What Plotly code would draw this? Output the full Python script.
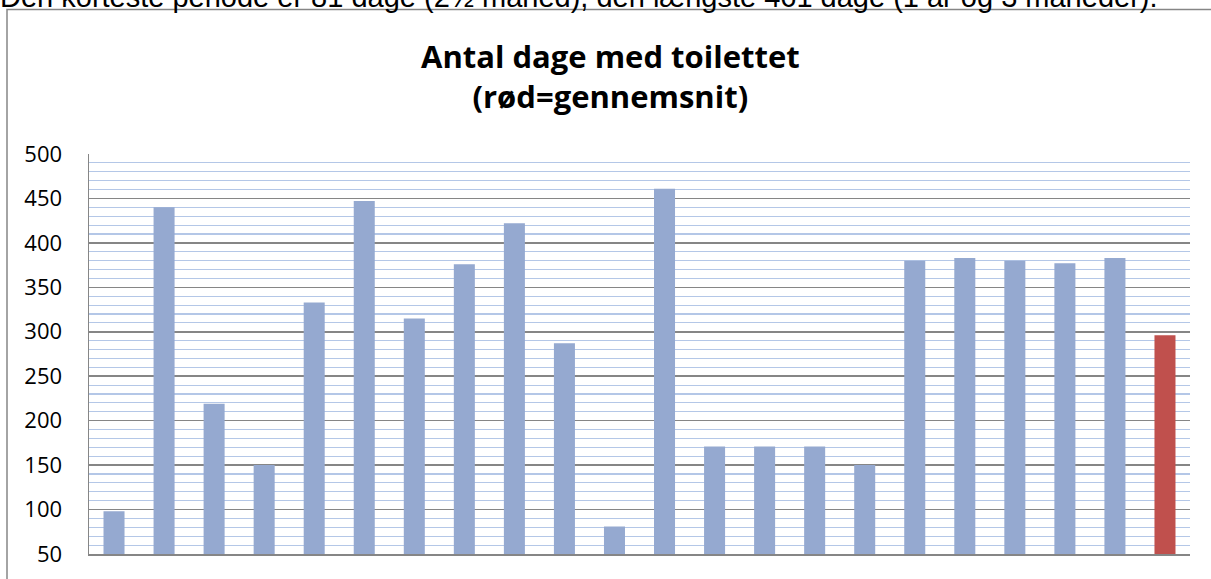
import plotly.graph_objects as go

categories = [str(i) for i in range(1, 22)] + ["Gennemsnit"]
values = [98, 440, 219, 150, 333, 447, 315, 376, 422, 287, 81, 461,
          171, 171, 171, 150, 380, 383, 380, 377, 383, 296]
bar_colors = ["#95A9D0"] * 21 + ["#C0504D"]
y_ticks = [50, 100, 150, 200, 250, 300, 350, 400, 450, 500]

W, H = 1211, 579
L, R, T, B = 89, 1190, 154, 554

def px(xp):
    return (xp - L) / (R - L)

def py(yp):
    return (B - yp) / (B - T)

fig = go.Figure(go.Bar(
    x=categories, y=values,
    marker=dict(color=bar_colors, line=dict(width=0)),
    hoverinfo="skip",
))

fig.update_layout(
    width=W, height=H,
    margin=dict(l=L, r=W - R, t=T, b=H - B, pad=0),
    paper_bgcolor="white", plot_bgcolor="white",
    bargap=0.58,
    showlegend=False,
    font=dict(family="Open Sans, Liberation Sans, sans-serif", color="black"),
)
fig.update_xaxes(
    showticklabels=False, ticks="", showgrid=False,
    showline=True, linecolor="#868686", linewidth=1.5,
    zeroline=False, fixedrange=True,
)
fig.update_yaxes(
    range=[50, 500], tickvals=y_ticks, ticktext=[str(v) for v in y_ticks],
    showgrid=True, gridcolor="#868686", gridwidth=1.5,
    minor=dict(dtick=10, tick0=50, showgrid=True, gridcolor="#B4C7E7", gridwidth=1.2),
    showline=True, linecolor="#868686", linewidth=1.5,
    ticks="", ticklabelstandoff=21,
    tickfont=dict(family="Open Sans, sans-serif", size=22, color="black"),
    zeroline=False, fixedrange=True,
)

# chart border
fig.add_shape(type="rect", xref="paper", yref="paper",
              x0=px(7), x1=px(1214), y0=py(590), y1=py(9.5),
              line=dict(color="#868686", width=1.5), layer="below")

# title
fig.add_annotation(
    xref="paper", yref="paper", x=px(610), y=py(76),
    xanchor="center", yanchor="middle", showarrow=False,
    text="<b>Antal dage med toilettet</b><br><b>(rød=gennemsnit)</b>",
    font=dict(family="Open Sans, sans-serif", size=31, color="black"),
)

# cut-off text from page above the chart
fig.add_annotation(
    xref="paper", yref="paper", x=px(-1), y=py(14),
    xanchor="left", yanchor="bottom", showarrow=False, borderpad=0,
    text="Den korteste periode er 81 dage (2½ måned), den længste 461 dage (1 år og 3 måneder).",
    font=dict(family="Liberation Sans, Arial, sans-serif", size=29, color="black"),
)

fig.write_html(
    "out.html",
    config={"displayModeBar": False, "staticPlot": True},
    post_script="document.body.style.margin='0';document.body.style.overflow='hidden';",
)
